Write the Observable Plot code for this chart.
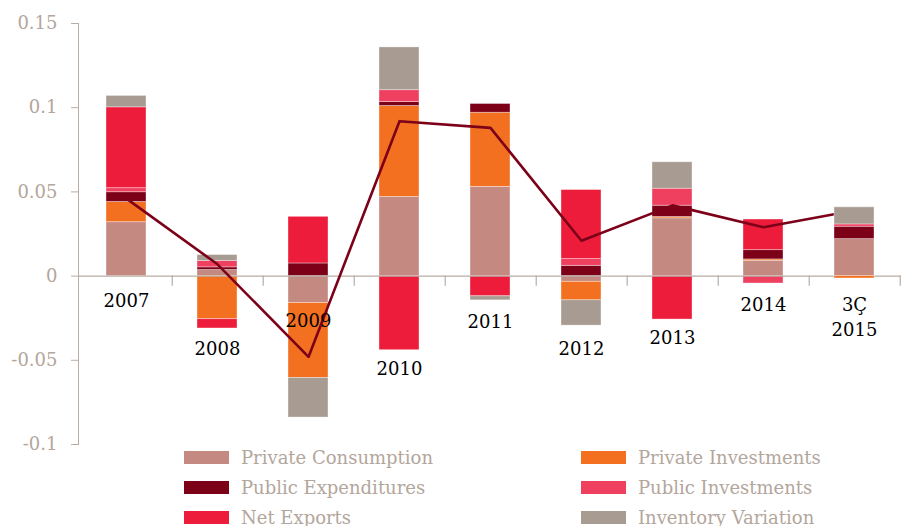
<!DOCTYPE html>
<html>
<head>
<meta charset="utf-8">
<script src="https://cdn.jsdelivr.net/npm/d3@7"></script>
<script src="https://cdn.jsdelivr.net/npm/@observablehq/plot@0.6"></script>
<style>
  html, body { margin: 0; padding: 0; background: #fff; overflow: hidden; }
  #wrap { position: relative; width: 907px; height: 526px; }
  #legend { position: absolute; top: 442px; left: 184px; display: grid;
    grid-template-columns: 397px 300px; grid-auto-rows: 30px;
    font-family: "DejaVu Serif", serif; font-size: 18px; color: #B3A69C; }
  .item { display: flex; align-items: center; white-space: nowrap; }
  .sw { width: 45px; height: 13px; margin-right: 12px; flex: none; }
</style>
</head>
<body>
<div id="wrap"><div id="chart"></div><div id="legend"></div></div>
<script>
const categories = ["2007", "2008", "2009", "2010", "2011", "2012", "2013", "2014", "3Ç\n2015"];
const seriesNames = ["Private Consumption", "Private Investments", "Public Expenditures", "Public Investments", "Net Exports", "Inventory Variation"];
const seriesColors = ["#C48A82", "#F37021", "#7D0019", "#F04060", "#ED1C3A", "#A89B92"];
const privateConsumption = [0.032, 0.0036, -0.016, 0.047, 0.053, -0.0034, 0.0343, 0.0091, 0.022];
const privateInvestments = [0.012, -0.0256, -0.0445, 0.054, 0.044, -0.011, 0.0008, 0.0008, -0.0014];
const publicExpenditures = [0.0058, 0.0016, 0.0075, 0.0024, 0.0052, 0.0061, 0.0067, 0.0055, 0.0073];
const publicInvestments = [0.0024, 0.0037, 0, 0.007, 0, 0.004, 0.0101, -0.0044, 0.0014];
const netExports = [0.048, -0.0055, 0.0277, -0.044, -0.012, 0.041, -0.0258, 0.0182, 0];
const inventoryVariation = [0.0068, 0.0036, -0.0235, 0.0254, -0.0024, -0.015, 0.0157, 0, 0.0101];
const gdpGrowth = [0.046, 0.007, -0.048, 0.092, 0.088, 0.021, 0.042, 0.029, 0.039];
// vertical position (in data units) of each category label
const labelAt = [-0.0137, -0.0423, -0.0259, -0.0542, -0.0262, -0.0423, -0.0357, -0.0161, -0.0235];
const yTicks = [-0.1, -0.05, 0, 0.05, 0.1, 0.15];

const seriesValues = [privateConsumption, privateInvestments, publicExpenditures, publicInvestments, netExports, inventoryVariation];
const rows = [];
seriesNames.forEach((s, i) => categories.forEach((c, j) => rows.push({cat: c, series: s, value: seriesValues[i][j]})));
const lineData = categories.map((c, j) => ({cat: c, v: gdpGrowth[j]}));
const labelData = categories.map((c, j) => ({cat: c, y: labelAt[j]}));

const width = 907, marginLeft = 78, marginRight = 6;
const step = (width - marginLeft - marginRight) / categories.length;
const axisColor = "#B8ADA4";

const barOpts = {x: "cat", y: "value", fill: "series", order: seriesNames, stroke: "white", strokeOpacity: 0.45, strokeWidth: 0.8};

const chart = Plot.plot({
  width, height: 458,
  marginLeft, marginRight, marginTop: 23, marginBottom: 14,
  style: {fontFamily: "DejaVu Serif, serif", fontSize: "18px", background: "transparent"},
  x: {domain: categories, paddingInner: 0.563, paddingOuter: 0.2815, axis: null},
  y: {domain: [-0.1, 0.15], ticks: yTicks, tickFormat: d => String(d), label: null, tickSize: 7, tickPadding: 14},
  color: {domain: seriesNames, range: seriesColors},
  marks: [
    Plot.axisY({ticks: yTicks, tickFormat: d => String(d), label: null, tickSize: 7, tickPadding: 14, stroke: axisColor, color: "#B3A69C", fontSize: 18}),
    Plot.frame({anchor: "left", stroke: axisColor}),
    Plot.barY(rows, barOpts),
    Plot.ruleY([0], {stroke: axisColor, strokeWidth: 1.2}),
    Plot.ruleX(categories, {x: d => d, y1: 0, y2: -0.006, dx: step / 2, stroke: axisColor, strokeWidth: 1.2}),
    Plot.line(lineData, {x: "cat", y: "v", stroke: "#7D0019", strokeWidth: 2.6}),
    Plot.barY(rows.filter(d => d.cat === categories[categories.length - 1]), barOpts),
    Plot.text(labelData, {x: "cat", y: "y", text: "cat", fill: "black", fontSize: 18, lineHeight: 1.35})
  ]
});
chart.style.position = "absolute";
chart.style.left = "0px";
chart.style.top = "0px";
document.getElementById("chart").appendChild(chart);

const legend = document.getElementById("legend");
seriesNames.forEach((name, i) => {
  const it = document.createElement("div");
  it.className = "item";
  it.innerHTML = `<span class="sw" style="background:${seriesColors[i]}"></span><span>${name}</span>`;
  legend.appendChild(it);
});
</script>
</body>
</html>
